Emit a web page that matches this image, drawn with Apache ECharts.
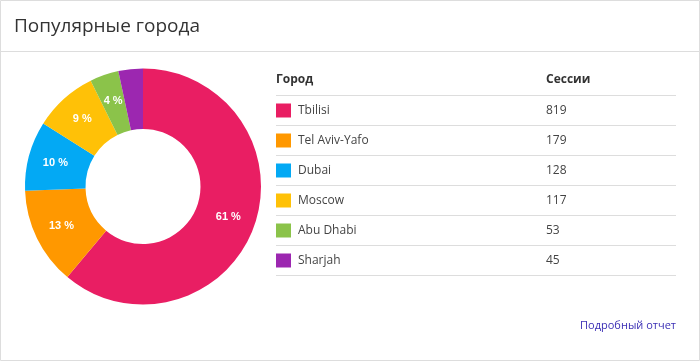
<!DOCTYPE html>
<html><head><meta charset="utf-8">
<script src="https://cdn.jsdelivr.net/npm/echarts@6/dist/echarts.min.js"></script>
<style>html,body{margin:0;padding:0;background:#fff}#c{width:700px;height:361px}</style>
</head><body><div id="c"></div>
<script>
const title = 'Популярные города';
const headerCity = 'Город';
const headerSessions = 'Сессии';
const linkText = 'Подробный отчет';
const cities = ['Tbilisi', 'Tel Aviv-Yafo', 'Dubai', 'Moscow', 'Abu Dhabi', 'Sharjah'];
const sessions = [819, 179, 128, 117, 53, 45];
const colors = ['#E91E63', '#FF9800', '#03A9F4', '#FFC107', '#8BC34A', '#9C27B0'];

const FONT = '"Open Sans", sans-serif';
const tableLeft = 276, tableRight = 676, headerLine = 95, rowH = 30, valueX = 546;
const total = sessions.reduce((a, b) => a + b, 0);

const graphics = [
  { type: 'rect', shape: { x: 0.5, y: 0.5, width: 699, height: 360 }, style: { fill: 'none', stroke: '#dddddd', lineWidth: 1 }, silent: true },
  { type: 'line', shape: { x1: 0, y1: 51.5, x2: 700, y2: 51.5 }, style: { stroke: '#dddddd', lineWidth: 1 }, silent: true },
  { type: 'text', left: 14, top: 17, style: { text: title, font: '19px ' + FONT, fill: '#333333' } },
  { type: 'text', x: tableLeft, y: 80, style: { text: headerCity, font: 'bold 12px ' + FONT, fill: '#333333', verticalAlign: 'middle' } },
  { type: 'text', x: valueX, y: 80, style: { text: headerSessions, font: 'bold 12px ' + FONT, fill: '#333333', verticalAlign: 'middle' } },
  { type: 'text', right: 24, top: 320, style: { text: linkText, font: '11px ' + FONT, fill: '#3b2fb5' } }
];
for (let i = 0; i <= cities.length; i++) {
  const y = headerLine + i * rowH + 0.5;
  graphics.push({ type: 'line', shape: { x1: tableLeft, y1: y, x2: tableRight, y2: y }, style: { stroke: '#dddddd', lineWidth: 1 }, silent: true });
}
cities.forEach((c, i) => {
  const cy = headerLine + i * rowH + 15.5;
  graphics.push({ type: 'rect', shape: { x: tableLeft, y: cy - 7, width: 15, height: 14 }, style: { fill: colors[i] }, silent: true });
  graphics.push({ type: 'text', x: 298, y: cy + 0.5, style: { text: c, font: '12px ' + FONT, fill: '#444444', verticalAlign: 'middle' } });
  graphics.push({ type: 'text', x: valueX, y: cy + 0.5, style: { text: String(sessions[i]), font: '12px ' + FONT, fill: '#444444', verticalAlign: 'middle' } });
});

const data = cities.map((c, i) => ({ name: c, value: sessions[i], itemStyle: { color: colors[i] },
  label: { show: sessions[i] / total >= 0.035 } }));

const chart = echarts.init(document.getElementById('c'), null, { renderer: 'canvas' });
chart.setOption({
  animation: false,
  graphic: graphics,
  series: [{
    type: 'pie', center: [143, 186.5], radius: [57.5, 118], startAngle: 90, clockwise: true,
    avoidLabelOverlap: false,
    label: { show: true, position: 'inside', formatter: p => Math.round(p.percent) + ' %',
      color: '#ffffff', fontWeight: 'bold', fontSize: 11, fontFamily: '"Liberation Sans", Arial, sans-serif' },
    labelLine: { show: false },
    emphasis: { disabled: true },
    itemStyle: { borderWidth: 0 },
    data: data
  }]
});
</script></body></html>
